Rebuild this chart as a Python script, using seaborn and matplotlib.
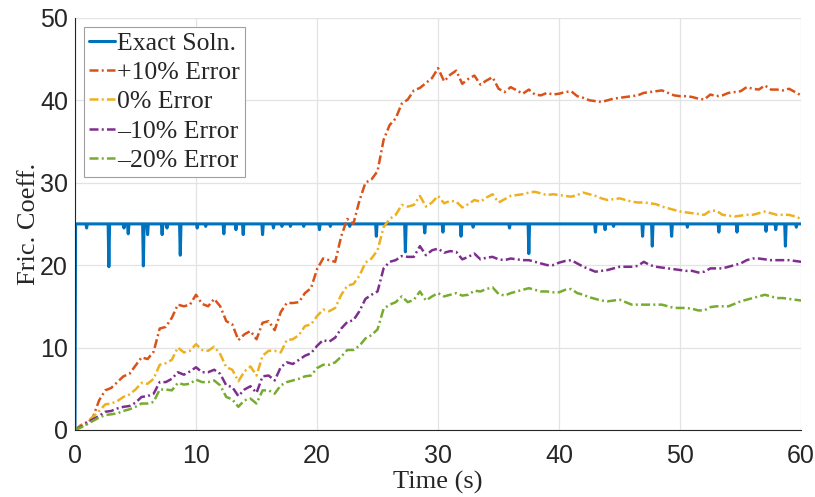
import numpy as np
import pandas as pd
import matplotlib
matplotlib.use("Agg")
import matplotlib.pyplot as plt
import seaborn as sns

# ---------------- data ----------------
time = [i * 0.5 for i in range(121)]

err_p10 = [0, 0.6, 0.7, 1.6, 3.6, 4.8, 5.1, 5.8, 6.5, 6.8, 7.8, 8.8, 8.6, 9.5, 12.3, 12.5,
           13.6, 15.2, 15.0, 15.2, 16.4, 15.3, 15.0, 15.9, 15.0, 13.2, 12.8, 10.9, 11.6, 12.0,
           11.0, 13.0, 13.2, 12.1, 14.3, 15.4, 15.4, 15.5, 16.6, 17.2, 19.5, 20.8, 20.6, 20.4,
           23.5, 25.6, 25.0, 27.8, 30.0, 30.4, 31.4, 35.2, 37.0, 37.8, 39.6, 40.1, 41.2, 41.5,
           42.1, 42.7, 43.9, 42.3, 43.1, 43.6, 42.0, 42.6, 43.0, 41.9, 42.4, 42.8, 41.4, 41.0,
           41.6, 41.2, 40.8, 41.3, 40.7, 40.6, 40.9, 40.7, 40.8, 41.0, 41.1, 40.5, 40.3, 40.0,
           39.9, 39.8, 40.0, 40.2, 40.3, 40.4, 40.5, 40.6, 40.9, 41.0, 41.1, 41.2, 40.9, 40.6,
           40.5, 40.5, 40.4, 40.2, 40.1, 40.7, 40.5, 40.6, 40.9, 41.0, 41.1, 41.6, 41.4, 41.3,
           41.8, 41.3, 41.3, 41.2, 41.4, 41.0, 40.6]

err_0 = [0, 0.5, 1.0, 1.6, 2.3, 3.1, 3.2, 3.5, 4.0, 4.3, 4.9, 5.7, 5.6, 6.2, 7.9, 8.1, 8.5,
         10.0, 9.4, 9.6, 10.4, 9.7, 9.6, 10.1, 9.2, 7.6, 7.3, 5.9, 7.1, 7.7, 6.6, 9.0, 9.6,
         9.6, 9.4, 10.9, 11.0, 11.5, 12.6, 12.8, 13.8, 14.6, 14.4, 14.8, 16.4, 17.5, 17.7,
         18.7, 20.3, 20.8, 21.8, 24.6, 25.6, 26.1, 27.3, 27.1, 27.3, 28.4, 27.1, 27.6, 28.4,
         27.5, 27.8, 27.7, 27.0, 27.4, 27.9, 27.7, 28.2, 28.6, 27.6, 28.0, 28.4, 28.5, 28.6,
         28.8, 28.9, 28.7, 28.5, 28.6, 28.5, 28.4, 28.3, 28.5, 28.8, 28.6, 28.4, 28.1, 27.9,
         28.0, 28.1, 27.9, 27.7, 27.6, 27.6, 27.5, 27.4, 27.1, 26.9, 26.7, 26.5, 26.4, 26.3,
         26.2, 26.1, 26.6, 26.6, 26.1, 26.0, 25.9, 26.0, 26.1, 26.1, 26.3, 26.5, 26.3, 26.1,
         26.1, 26.1, 25.9, 25.6]

err_m10 = [0, 0.4, 0.9, 1.3, 1.7, 2.2, 2.3, 2.6, 2.8, 2.9, 3.3, 4.0, 4.1, 4.4, 5.8, 5.8,
           6.2, 7.0, 6.7, 7.1, 7.6, 7.0, 7.0, 7.3, 6.8, 5.4, 5.2, 4.1, 4.9, 5.3, 4.5, 6.5, 6.6,
           6.0, 7.6, 8.2, 8.0, 8.5, 9.0, 9.3, 10.2, 10.9, 10.7, 11.2, 12.3, 13.1, 13.3, 14.4,
           15.9, 16.4, 16.8, 19.6, 20.4, 20.6, 21.1, 21.0, 21.0, 22.3, 21.2, 21.8, 22.0, 21.5,
           21.7, 21.6, 20.7, 21.0, 21.4, 20.7, 20.9, 21.0, 20.7, 20.6, 20.8, 20.7, 20.6, 20.6,
           20.4, 20.2, 20.0, 20.0, 20.3, 20.5, 20.6, 20.2, 19.8, 19.5, 19.2, 19.3, 19.4, 19.6,
           19.8, 19.8, 19.8, 19.9, 20.4, 20.0, 19.8, 19.7, 19.6, 19.5, 19.4, 19.3, 19.3, 19.1,
           19.2, 19.6, 19.6, 19.6, 19.8, 20.0, 20.2, 20.6, 20.8, 20.8, 20.7, 20.6, 20.6, 20.6,
           20.6, 20.5, 20.4]

err_m20 = [0, 0.3, 0.7, 1.1, 1.5, 1.8, 1.9, 2.0, 2.3, 2.5, 2.8, 3.2, 3.2, 3.4, 4.9, 4.9,
           4.8, 5.7, 5.5, 5.6, 6.1, 5.8, 5.8, 6.0, 5.4, 4.0, 3.7, 2.8, 3.6, 3.8, 3.2, 4.8, 4.8,
           4.4, 5.4, 5.8, 6.0, 6.2, 6.5, 6.6, 7.5, 7.9, 7.9, 8.2, 8.9, 9.7, 9.7, 10.2, 11.1,
           11.5, 12.2, 14.7, 15.2, 15.5, 16.2, 15.5, 15.8, 16.8, 15.7, 16.2, 16.6, 16.2, 16.4,
           16.6, 16.3, 16.4, 16.9, 16.8, 17.1, 17.3, 16.5, 16.3, 16.6, 16.8, 17.0, 17.2, 17.0,
           16.8, 16.8, 16.7, 16.7, 17.0, 17.1, 16.6, 16.4, 16.1, 15.9, 15.7, 15.6, 15.7, 15.8,
           15.5, 15.2, 15.2, 15.2, 15.2, 15.2, 15.2, 15.0, 14.8, 14.8, 14.8, 14.7, 14.5, 14.5,
           14.9, 15.0, 15.0, 15.0, 15.3, 15.6, 15.8, 16.0, 16.2, 16.4, 16.2, 16.0, 16.0, 15.9,
           15.8, 15.7]

exact_level = 25.0
spike_t = [0.96, 2.8, 4.05, 4.4, 5.65, 6.0, 7.2, 7.6, 8.7, 10.1, 10.8, 12.3, 13.3, 13.9,
           15.5, 16.4, 17.1, 17.8, 18.9, 20.2, 21.1, 22.7, 24.9, 27.3, 28.9, 30.4, 31.9, 32.9,
           35.9, 37.5, 43.0, 43.8, 44.5, 46.9, 47.7, 49.3, 50.6, 53.2, 54.7, 57.1, 57.9, 58.7,
           59.6]
spike_v = [24.5, 19.8, 24.5, 23.8, 19.9, 23.7, 23.7, 24.5, 21.2, 24.5, 24.7, 23.8, 24.3, 23.7,
           23.7, 24.5, 24.7, 24.7, 24.7, 24.3, 24.7, 24.7, 23.5, 21.6, 23.9, 24.0, 23.5, 24.6,
           24.5, 21.4, 24.0, 24.3, 24.7, 23.5, 22.3, 23.5, 24.6, 24.0, 24.0, 24.1, 24.3, 22.3,
           24.6]

labels = ["Exact Soln.", "+10% Error", "0% Error", "\u201310% Error", "\u201320% Error"]
colors = ["#0072BD", "#D95319", "#EDB120", "#7E2F8E", "#77AC30"]

# build exact solution polyline from level + spikes
ex_t = [0.0, 0.05]
ex_v = [0.0, exact_level]
for t, v in zip(spike_t, spike_v):
    ex_t += [t - 0.06, t, t + 0.06]
    ex_v += [exact_level, v, exact_level]
ex_t.append(60.0)
ex_v.append(exact_level)

# ---------------- plot ----------------
sns.set_style("white")
plt.rcParams["font.family"] = ["Liberation Serif", "DejaVu Serif"]

fig = plt.figure(figsize=(8.15, 4.97), dpi=100)
ax = fig.add_axes([0.092, 0.135, 0.891, 0.829])

sns.lineplot(x=ex_t, y=ex_v, ax=ax, color=colors[0], lw=2.2, label=labels[0],
             sort=False, estimator=None)
dash = (0, (3.6, 1.3, 0.8, 1.3))
for ys, lab, col in zip([err_p10, err_0, err_m10, err_m20], labels[1:], colors[1:]):
    sns.lineplot(x=time, y=ys, ax=ax, color=col, lw=1.8, linestyle=dash, label=lab,
                 sort=False, estimator=None)

ax.set_xlim(0, 60)
ax.set_ylim(0, 50)
ax.set_xticks(range(0, 61, 10))
ax.set_yticks(range(0, 51, 10))
ax.grid(True, color="#e3e3e3", lw=0.9)
ax.set_axisbelow(True)
for s in ["top", "right"]:
    ax.spines[s].set_visible(False)
for s in ["left", "bottom"]:
    ax.spines[s].set_color("#262626")
    ax.spines[s].set_linewidth(0.8)
ax.tick_params(direction="in", length=5, width=0.8, colors="#262626", labelsize=18,
               labelcolor="#262626")
ax.tick_params(axis="y", pad=5)
ax.tick_params(axis="x", pad=10)
for lab in ax.get_xticklabels() + ax.get_yticklabels():
    lab.set_family(["Liberation Sans", "DejaVu Sans"])

ax.set_xlabel("Time (s)", fontsize=19, labelpad=2)
ax.set_ylabel("Fric. Coeff.", fontsize=19, labelpad=0)

leg = ax.legend(loc="upper left", bbox_to_anchor=(0.0124, 0.978), fontsize=18.5,
                frameon=True, fancybox=False, edgecolor="#a0a0a0", framealpha=1,
                handlelength=1.0, handletextpad=0.1, borderpad=0.2, labelspacing=0.24,
                borderaxespad=0)
leg.get_frame().set_linewidth(0.8)

fig.savefig("out.png", dpi=100)
